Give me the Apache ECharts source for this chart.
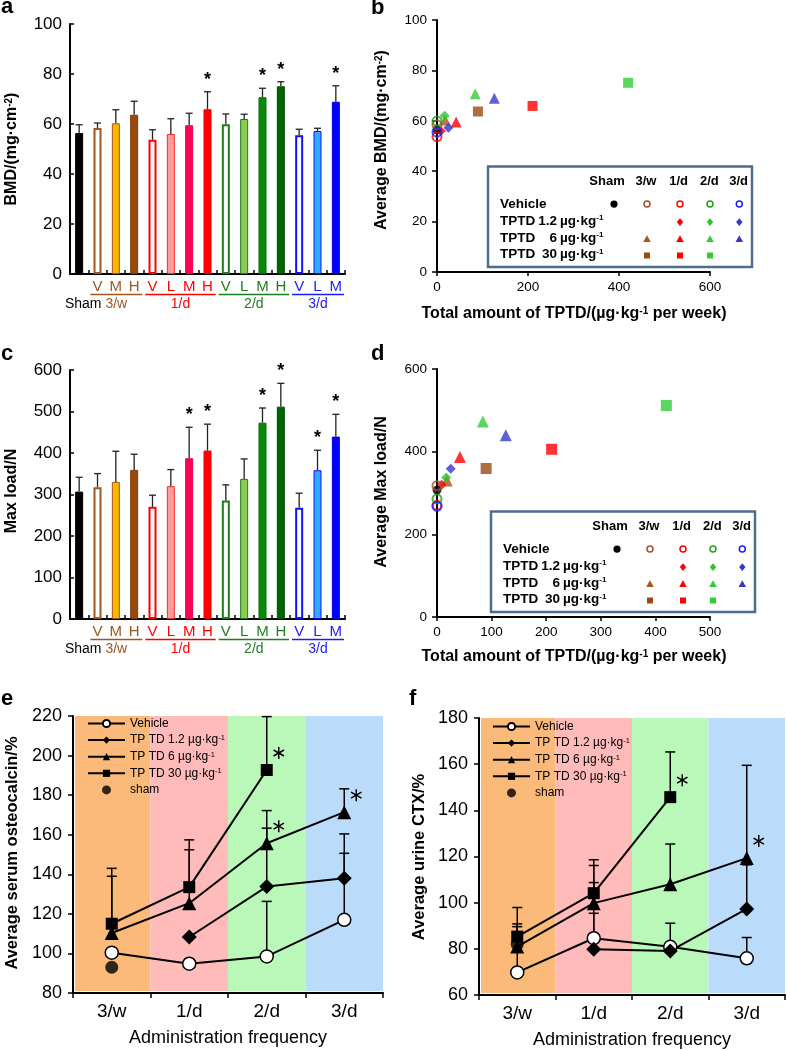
<!DOCTYPE html>
<html><head><meta charset="utf-8">
<script src="https://cdn.jsdelivr.net/npm/echarts@6/dist/echarts.min.js"></script>
<style>html,body{margin:0;padding:0;background:#fff}#c{width:787px;height:1050px}</style>
</head><body><div id="c"></div>
<script>
// ================= DATA =================
const barIds = ['Sham','3/w V','3/w M','3/w H','1/d V','1/d L','1/d M','1/d H','2/d V','2/d L','2/d M','2/d H','3/d V','3/d L','3/d M'];
const bmdMean = [56.4, 58.4, 60.3, 63.7, 53.7, 56.0, 59.5, 65.9, 59.9, 62.0, 70.7, 75.1, 55.5, 57.2, 68.9];
const bmdSD   = [3.3, 2.0, 5.4, 5.4, 4.0, 6.1, 4.8, 7.0, 4.1, 1.9, 3.6, 1.8, 2.4, 1.1, 6.4];
const bmdSig  = [0,0,0,0,0,0,0,1,0,0,1,1,0,0,1];
const loadMean = [307, 317.6, 330.4, 359.3, 270.2, 320, 387.3, 405.8, 285.5, 337.6, 473.1, 511.6, 267.8, 358.5, 439.5];
const loadSD   = [34.6, 32.8, 73.8, 37.7, 28.1, 40, 74.7, 63.7, 37.7, 48.1, 35.3, 56.2, 35.3, 48.1, 53.7];
const loadSig  = [0,0,0,0,0,0,1,1,0,0,1,1,0,1,1];
const totalTPTD = [0, 0, 18, 90, 0, 8.4, 42, 210, 0, 16.8, 84, 420, 0, 25.2, 126];
const groupNames = ['Sham','3/w','1/d','2/d','3/d'];
const legendRows = ['Vehicle','TPTD 1.2','TPTD 6','TPTD 30'];

const freqCats = ['3/w','1/d','2/d','3/d'];
const seriesNames = ['Vehicle','TP TD 1.2 µg·kg-1','TP TD 6 µg·kg-1','TP TD 30 µg·kg-1','sham'];
// osteocalcin (panel e)
const ocVehicle = [100.4, 94.8, 98.5, 117];
const ocTP12    = [null, 108.3, 133.8, 138];
const ocTP6     = [110.3, 125.4, 155.7, 171.4];
const ocTP30    = [115, 133.5, 192.7, null];
const ocSham    = [93, null, null, null];
const ocSDVehicle = [null, null, 27.8, 33.6];
const ocSDTP12    = [null, null, 29.5, 22.4];
const ocSDTP6     = [28.7, 27, 16.5, 11.8];
const ocSDTP30    = [28, 23.9, 27, null];
const ocSigTP6  = [0,0,1,1];
const ocSigTP30 = [0,0,1,0];
// urine CTX (panel f)
const ctxVehicle = [69.8, 84.6, 80.9, 75.9];
const ctxTP12    = [null, 79.8, 79.1, 97.3];
const ctxTP6     = [81, 99.8, 108, 119.3];
const ctxTP30    = [85.3, 104.1, 145.7, null];
const ctxSham    = [82, null, null, null];
const ctxSDVehicle = [19.8, 10.8, 10.2, 9];
const ctxSDTP12    = [null, 28.9, null, 19.1];
const ctxSDTP6     = [9.8, 16.3, 17.4, 40.2];
const ctxSDTP30    = [12.6, 14.5, 19.6, null];
const ctxSigTP6  = [0,0,0,1];
const ctxSigTP30 = [0,0,1,0];

// ================= STYLES =================
const FONT = '"Liberation Sans", Arial, Helvetica, sans-serif';
const groupColors = ['#000000','#A0561E','#FF0000','#1E7E1E','#1A1AFF'];
const barFill   = ['#000','#fff','#FFB400','#974A0E','#fff','#FF9C9C','#FF0058','#FF0000','#fff','#8CCB50','#088A08','#006400','#fff','#33AAFF','#0000FF'];
const barStroke = ['#000','#A0561E','#A0561E','#7E3C08','#FF0000','#FF2A2A','#E8004E','#E80000','#1E7E1E','#1E7E1E','#066E06','#005200','#1010FF','#1010FF','#0000DD'];
const scColors  = ['#000','#A0522D','#B0531C','#9A4A12','#FF0000','#FF0000','#FF0000','#FF0000','#22A022','#2DC42D','#33CC33','#33CC33','#2020FF','#3535D5','#3838CC'];
const bgColors = ['#FBBA7A','#FFBABA','#BAF8BA','#BADCFA'];

function groupOf(i){ return i === 0 ? 0 : ['3/w','1/d','2/d','3/d'].indexOf(barIds[i].split(' ')[0]) + 1; }
function letterOf(i){ return i === 0 ? '' : barIds[i].split(' ')[1]; }
function shapeOf(i){ const l = letterOf(i); return l === 'L' ? 'diamond' : l === 'M' ? 'triangle' : l === 'H' ? 'rect' : 'circle'; }
function rowOf(i){ const l = letterOf(i); return l === 'L' ? 1 : l === 'M' ? 2 : l === 'H' ? 3 : 0; }

const chart = echarts.init(document.getElementById('c'));

const AX = {lineStyle:{color:'#000', width:2}};
const grids = [
  {left:70, top:24, width:275, height:250},
  {left:437, top:20, width:273, height:252},
  {left:70, top:370, width:275, height:249},
  {left:437, top:369, width:273, height:248},
  {left:73, top:716, width:310, height:277},
  {left:479, top:718, width:306, height:277}
].map(g => Object.assign({outerBoundsMode:'none', containLabel:false, show:false}, g));

const richBar = {};
groupColors.forEach((c,k)=>{ richBar['g'+k] = {color:c, fontSize:15, fontFamily:FONT}; });

function barXAxis(gi){
  return {gridIndex:gi, type:'category', data:barIds, boundaryGap:true,
    axisLine:{show:true, ...AX}, axisTick:{show:true, inside:true, length:4, lineStyle:{color:'#000', width:1.5}},
    axisLabel:{interval:0, margin:5, rich:richBar, formatter:(v, idx)=>{ const l = letterOf(idx); return l ? '{g'+groupOf(idx)+'|'+l+'}' : ''; }},
    splitLine:{show:false}};
}
function valYAxis(gi, min, max, iv, inside, fs, margin){
  return {gridIndex:gi, type:'value', min, max, interval:iv,
    axisLine:{show:true, ...AX}, axisTick:{show:true, inside, length:inside?4:5, lineStyle:{color:'#000', width:1.5}},
    axisLabel:{fontSize:fs, color:'#000', margin, fontFamily:FONT}, splitLine:{show:false}};
}
function valXAxis(gi, min, max, iv){
  return {gridIndex:gi, type:'value', min, max, interval:iv,
    axisLine:{show:true, onZero:false, ...AX}, axisTick:{show:true, length:4, lineStyle:{color:'#000', width:1.5}},
    axisLabel:{fontSize:13.5, color:'#000', margin:8, fontFamily:FONT}, splitLine:{show:false}};
}
function freqXAxis(gi){
  return {gridIndex:gi, type:'category', data:freqCats, boundaryGap:true,
    axisLine:{show:true, ...AX}, axisTick:{show:true, length:5, lineStyle:{color:'#000', width:1.5}},
    axisLabel:{fontSize:19, color:'#000', margin:9, fontFamily:FONT, interval:0}, splitLine:{show:false}};
}

// ---------- bar series ----------
function barSeries(gi, means){
  return {type:'bar', xAxisIndex:gi, yAxisIndex:gi, barWidth:8, z:3,
    data: means.map((v,i)=>({value:v, itemStyle:{color:barFill[i], borderColor:barStroke[i], borderWidth: barFill[i]==='#fff'?2:1}}))};
}
function barErrSeries(gi, means, sds, sig){
  return {type:'custom', xAxisIndex:gi, yAxisIndex:gi, z:4, encode:{x:0, y:[1,2]},
    data: means.map((v,i)=>[i, v, v + sds[i], sig[i]]),
    renderItem:(params, api)=>{
      const i = api.value(0), m = api.value(1), t = api.value(2), s = api.value(3);
      const p0 = api.coord([i, m]), p1 = api.coord([i, t]);
      const st = {stroke:'#222', lineWidth:1.3};
      const ch = [
        {type:'line', shape:{x1:p0[0], y1:p0[1], x2:p1[0], y2:p1[1]}, style:st},
        {type:'line', shape:{x1:p1[0]-3.5, y1:p1[1], x2:p1[0]+3.5, y2:p1[1]}, style:st}
      ];
      if (s) ch.push({type:'text', x:p1[0], y:p1[1]-12, style:{text:'*', fontSize:18, fontWeight:'bold', fontFamily:FONT, fill:'#000', align:'center', verticalAlign:'middle'}});
      return {type:'group', children:ch};
    }};
}
// ---------- scatter (b, d) ----------
function scatterSeries(gi, means, big, vehicles){
  const data = [];
  means.forEach((v,i)=>{
    const isVeh = letterOf(i) === 'V' || i === 0;
    if (isVeh !== vehicles) return;
    const sh = shapeOf(i);
    let size = sh === 'rect' ? big : sh === 'triangle' ? big + 1 : sh === 'diamond' ? 10 : 9;
    const it = {value:[totalTPTD[i], v], symbol:sh, symbolSize:size};
    if (sh === 'circle' && i !== 0) it.itemStyle = {color:'rgba(255,255,255,0)', borderColor:scColors[i], borderWidth:2};
    else it.itemStyle = {color:scColors[i]};
    data.push(it);
  });
  return {type:'scatter', xAxisIndex:gi, yAxisIndex:gi, data, z:5};
}

// ---------- panels e, f ----------
function bgSeries(gi){
  return {type:'custom', xAxisIndex:gi, yAxisIndex:gi, z:1, silent:true,
    data: freqCats.map((c,i)=>[i]), encode:{x:0},
    renderItem:(params, api)=>{
      const cs = params.coordSys; const i = api.value(0);
      const w = api.size([1,0])[0]; const cx = api.coord([i, 0])[0];
      let x0 = cx - w/2, x1 = cx + w/2; if (i === 0) x0 += 2;
      return {type:'rect', shape:{x:x0, y:cs.y, width:x1-x0, height:cs.height-2}, style:{fill:bgColors[i]}};
    }};
}
function errLineSeries(gi, means, sds){
  const data = [];
  means.forEach((m, k)=>{ m.forEach((v,i)=>{ if (v != null && sds[k][i] != null) data.push([i, v, v + sds[k][i]]); }); });
  return {type:'custom', xAxisIndex:gi, yAxisIndex:gi, z:2, encode:{x:0, y:[1,2]}, data,
    renderItem:(params, api)=>{
      const i = api.value(0);
      const p0 = api.coord([i, api.value(1)]), p1 = api.coord([i, api.value(2)]);
      const st = {stroke:'#000', lineWidth:1.5};
      return {type:'group', children:[
        {type:'line', shape:{x1:p0[0], y1:p0[1], x2:p1[0], y2:p1[1]}, style:st},
        {type:'line', shape:{x1:p1[0]-5, y1:p1[1], x2:p1[0]+5, y2:p1[1]}, style:st}]};
    }};
}
function starSeries(gi, means, sigs){
  const data = [];
  means.forEach((m,k)=>{ m.forEach((v,i)=>{ if (sigs[k][i]) data.push([i, v]); }); });
  return {type:'custom', xAxisIndex:gi, yAxisIndex:gi, z:6, encode:{x:0, y:1}, data,
    renderItem:(params, api)=>{
      const p = api.coord([api.value(0), api.value(1)]);
      const cx = p[0] + 12, cy = p[1] - 17, r = 6;
      const ch = [];
      for (let k=0;k<3;k++){ const a = Math.PI/2 + k*Math.PI/3;
        ch.push({type:'line', shape:{x1:cx - r*Math.cos(a), y1:cy - r*Math.sin(a), x2:cx + r*Math.cos(a), y2:cy + r*Math.sin(a)}, style:{stroke:'#000', lineWidth:1.5}}); }
      return {type:'group', children:ch};
    }};
}
function lineSet(gi, veh, t12, t6, t30, sham){
  const ls = {color:'#000', width:2};
  return [
    {name:seriesNames[0], type:'line', xAxisIndex:gi, yAxisIndex:gi, data:veh, symbol:'circle', symbolSize:13, z:5,
      lineStyle:ls, itemStyle:{color:'#fff', borderColor:'#000', borderWidth:1.5}},
    {name:seriesNames[1], type:'line', xAxisIndex:gi, yAxisIndex:gi, data:t12, symbol:'diamond', symbolSize:15, z:5,
      lineStyle:ls, itemStyle:{color:'#000'}},
    {name:seriesNames[2], type:'line', xAxisIndex:gi, yAxisIndex:gi, data:t6, symbol:'triangle', symbolSize:14, z:5,
      lineStyle:ls, itemStyle:{color:'#000'}},
    {name:seriesNames[3], type:'line', xAxisIndex:gi, yAxisIndex:gi, data:t30, symbol:'rect', symbolSize:12, z:5,
      lineStyle:ls, itemStyle:{color:'#000'}},
    {name:seriesNames[4], type:'scatter', xAxisIndex:gi, yAxisIndex:gi, data:sham, symbol:'circle', symbolSize:13, z:4,
      itemStyle:{color:'#000'}}
  ];
}

// ---------- graphics ----------
const G = [];
function T(x, y, text, o){
  o = o || {};
  G.push({type:'text', x, y, rotation:o.rot || 0, z:50,
    style:{text, fontSize:o.fs || 14, fontWeight:o.fw || 'normal', fontFamily:FONT, fill:o.fill || '#000',
      align:o.align || 'center', verticalAlign:o.va || 'middle', rich:o.rich}});
}
const supRich = (fs)=>({sup:{fontSize:fs, fontWeight:'bold', fontFamily:FONT, verticalAlign:'top', fill:'#000'}});
// panel letters
[['a',1,6.5],['b',371,7.5],['c',1,354],['d',371,354],['e',1,699],['f',409,699]].forEach(l=>T(l[1], l[2], l[0], {fs:22, fw:'bold', align:'left'}));
// axis titles
const R = Math.PI/2;
T(12, 149, 'BMD/(mg·cm{sup|-2})', {fs:16, fw:'bold', rot:R, rich:supRich(10)});
T(12, 491, 'Max load/N', {fs:16, fw:'bold', rot:R});
T(382, 140, 'Average BMD/(mg·cm{sup|-2})', {fs:16, fw:'bold', rot:R, rich:supRich(10)});
T(382, 492, 'Average Max load/N', {fs:16, fw:'bold', rot:R});
T(574, 314, 'Total amount of TPTD/(µg·kg{sup|-1} per week)', {fs:16, fw:'bold', rich:supRich(10)});
T(574, 657, 'Total amount of TPTD/(µg·kg{sup|-1} per week)', {fs:16, fw:'bold', rich:supRich(10)});
T(12, 853, 'Average serum osteocalcin/%', {fs:16.5, fw:'bold', rot:R});
T(419, 857, 'Average urine CTX/%', {fs:16.5, fw:'bold', rot:R});
T(228, 1038, 'Administration frequency', {fs:18});
T(632, 1040, 'Administration frequency', {fs:18});

// group underlines + group labels under bar panels
function groupLabels(g, baseY){
  const bw = g.width / barIds.length;
  for (let k=1;k<=4;k++){
    const idx = barIds.map((b,i)=>i).filter(i=>groupOf(i)===k);
    const x1 = g.left + bw*idx[0] + 2, x2 = g.left + bw*(idx[idx.length-1]+1) - 1;
    G.push({type:'line', z:50, shape:{x1, y1:baseY+20.5, x2, y2:baseY+20.5}, style:{stroke:groupColors[k], lineWidth:1.5}});
    T((x1+x2)/2, baseY+30, groupNames[k], {fs:14, fill:groupColors[k]});
  }
  T(g.left + bw*0.5 + 4, baseY+30, groupNames[0], {fs:14});
}
groupLabels(grids[0], 274);
groupLabels(grids[2], 619);

// legend tables in b, d
function marker(shape, cx, cy, color, open){
  const s = 3.2;
  if (shape === 'circle' && open) G.push({type:'circle', z:51, shape:{cx, cy, r:3}, style:{fill:'#fff', stroke:color, lineWidth:1.5}});
  else if (shape === 'circle') G.push({type:'circle', z:51, shape:{cx, cy, r:3.6}, style:{fill:color}});
  else if (shape === 'diamond') G.push({type:'polygon', z:51, shape:{points:[[cx,cy-s-0.6],[cx+s,cy],[cx,cy+s+0.6],[cx-s,cy]]}, style:{fill:color}});
  else if (shape === 'triangle') G.push({type:'polygon', z:51, shape:{points:[[cx,cy-3.8],[cx+3.8,cy+3],[cx-3.8,cy+3]]}, style:{fill:color}});
  else G.push({type:'rect', z:51, shape:{x:cx-3, y:cy-3, width:6, height:6}, style:{fill:color}});
}
function legendBox(x, y){
  G.push({type:'rect', z:49, shape:{x, y, width:264, height:100.5}, style:{fill:'#fff', stroke:'#4E6B90', lineWidth:2.5}});
  const hx = [119, 158, 190.6, 221.3, 250.6];
  groupNames.forEach((n,k)=>T(x+hx[k], y+15, n, {fs:13, fw:'bold'}));
  const ry = [37.6, 55.6, 72.6, 89];
  const rich = {sup:{fontSize:8, fontWeight:'bold', fontFamily:FONT, verticalAlign:'top'}};
  T(x+12, y+ry[0], legendRows[0], {fs:13.5, fw:'bold', align:'left'});
  const doses = ['1.2','6','30'];
  for (let r=1;r<=3;r++){
    T(x+12, y+ry[r]-1, 'TPTD', {fs:13.5, fw:'bold', align:'left'});
    T(x+69, y+ry[r]-1, doses[r-1], {fs:13.5, fw:'bold', align:'right'});
    T(x+72, y+ry[r]-1, 'µg·kg{sup|-1}', {fs:13.5, fw:'bold', align:'left', rich});
  }
  const mx = [126, 159, 192, 222, 251.3];
  barIds.forEach((b,i)=>{
    const k = groupOf(i), r = rowOf(i);
    marker(shapeOf(i), x+mx[k], y+ry[r], scColors[i], shapeOf(i)==='circle' && i!==0);
  });
}
legendBox(488, 166.5);
legendBox(491, 511.5);

const legRich = {sup:{fontSize:7.5, fontFamily:FONT, verticalAlign:'top'}};
const legFmt = n => n.replace('-1', '{sup|-1}');
function leg(left, top){
  return {data:seriesNames, left, top, padding:0, orient:'vertical', itemWidth:37, itemHeight:9, itemGap:4.6, selectedMode:false,
    textStyle:{fontSize:12, color:'#000', fontFamily:FONT, rich:legRich}, formatter:legFmt};
}

const option = {
  animation:false,
  textStyle:{fontFamily:FONT},
  grid:grids,
  legend:[leg(87, 717.5), leg(492, 720.5)],
  xAxis:[barXAxis(0), valXAxis(1,0,600,200), barXAxis(2), valXAxis(3,0,500,100), freqXAxis(4), freqXAxis(5)],
  yAxis:[valYAxis(0,0,100,20,true,17,8), valYAxis(1,0,100,20,false,13.5,10), valYAxis(2,0,600,100,true,17,8),
         valYAxis(3,0,600,200,false,13.5,10), valYAxis(4,80,220,20,false,18,11), valYAxis(5,60,180,20,false,18,11)],
  series:[
    barSeries(0, bmdMean), barErrSeries(0, bmdMean, bmdSD, bmdSig),
    barSeries(2, loadMean), barErrSeries(2, loadMean, loadSD, loadSig),
    scatterSeries(1, bmdMean, 10, false), scatterSeries(1, bmdMean, 10, true),
    scatterSeries(3, loadMean, 11, false), scatterSeries(3, loadMean, 11, true),
    bgSeries(4), errLineSeries(4, [ocVehicle, ocTP12, ocTP6, ocTP30], [ocSDVehicle, ocSDTP12, ocSDTP6, ocSDTP30]),
    ...lineSet(4, ocVehicle, ocTP12, ocTP6, ocTP30, ocSham),
    starSeries(4, [ocTP6, ocTP30], [ocSigTP6, ocSigTP30]),
    bgSeries(5), errLineSeries(5, [ctxVehicle, ctxTP12, ctxTP6, ctxTP30], [ctxSDVehicle, ctxSDTP12, ctxSDTP6, ctxSDTP30]),
    ...lineSet(5, ctxVehicle, ctxTP12, ctxTP6, ctxTP30, ctxSham),
    starSeries(5, [ctxTP6, ctxTP30], [ctxSigTP6, ctxSigTP30])
  ],
  graphic:G
};
chart.setOption(option);
</script>
</body></html>
